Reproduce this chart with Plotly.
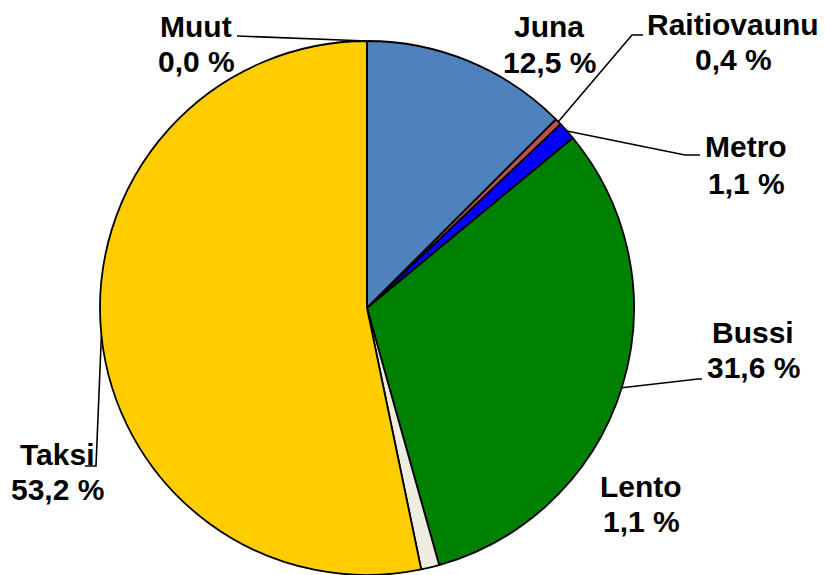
import math
import plotly.graph_objects as go

# ---- data ----
categories = ["Juna", "Raitiovaunu", "Metro", "Bussi", "Lento", "Taksi", "Muut"]
shares = [12.5, 0.4, 1.1, 31.6, 1.1, 53.2, 0.0]
share_labels = ["12,5 %", "0,4 %", "1,1 %", "31,6 %", "1,1 %", "53,2 %", "0,0 %"]
colors = ["#4F81BD", "#C0504D", "#0000FF", "#008000", "#EEECE1", "#FFCC00", "#9BBB59"]

W, H = 825, 575
FS = 30
# pie geometry (pixels)
top_px = 41
cx = 367
r = (H - top_px) / 2.0
cy = top_px + r

fig = go.Figure(go.Pie(
    labels=categories,
    values=shares,
    sort=False,
    direction="clockwise",
    rotation=0,
    marker=dict(colors=colors, line=dict(color="black", width=1.8)),
    textinfo="none",
    hoverinfo="label+percent",
    showlegend=False,
    domain=dict(x=[(cx - r) / W, (cx + r) / W], y=[0, 1 - top_px / H]),
))

# label x centre and baselines of the two lines (pixels)
label_pos = {
    "Juna": (549, 37, 73),
    "Raitiovaunu": (733, 35, 70),
    "Metro": (746, 157, 194),
    "Bussi": (753, 343, 378),
    "Lento": (641, 497, 532),
    "Taksi": (58, 465, 500),
    "Muut": (196, 37, 72),
}
# leader-line elbows (pixels); start point computed from the slice angle
leaders = {
    "Raitiovaunu": [(632, 35), (643, 35)],
    "Metro": [(685, 155), (700, 155)],
    "Bussi": [(698, 379), (702, 379)],
    "Taksi": [(96, 466), (85, 466)],
    "Muut": [(237, 36)],
}

def px2paper(x, y):
    return x / W, 1 - y / H

total = sum(shares)
cum = 0.0
font = dict(family="Arial, 'Liberation Sans', sans-serif", size=FS, color="black")
for cat, v, lab in zip(categories, shares, share_labels):
    mid = (cum + v / 2.0) / total
    cum += v
    ang = 2 * math.pi * mid
    ex = cx + r * math.sin(ang)
    ey = cy - r * math.cos(ang)
    lx, b1, b2 = label_pos[cat]
    for txt, b in ((cat, b1), (lab, b2)):
        ax, ay = px2paper(lx, b - 0.347 * FS)
        fig.add_annotation(
            x=ax, y=ay, xref="paper", yref="paper",
            text=f"<b>{txt}</b>",
            showarrow=False, font=font, xanchor="center", yanchor="middle",
        )
    if cat in leaders:
        pts = [(ex, ey)] + leaders[cat]
        path = "M " + " L ".join(
            f"{px2paper(x, y)[0]:.5f},{px2paper(x, y)[1]:.5f}" for x, y in pts
        )
        fig.add_shape(type="path", path=path, xref="paper", yref="paper",
                      line=dict(color="black", width=1.6))

fig.update_layout(
    width=W, height=H,
    margin=dict(l=0, r=0, t=0, b=0),
    paper_bgcolor="white",
    plot_bgcolor="white",
)

fig.write_html(
    "out.html",
    config={"displayModeBar": False},
    post_script="document.body.style.margin='0';document.body.style.overflow='hidden';",
)
